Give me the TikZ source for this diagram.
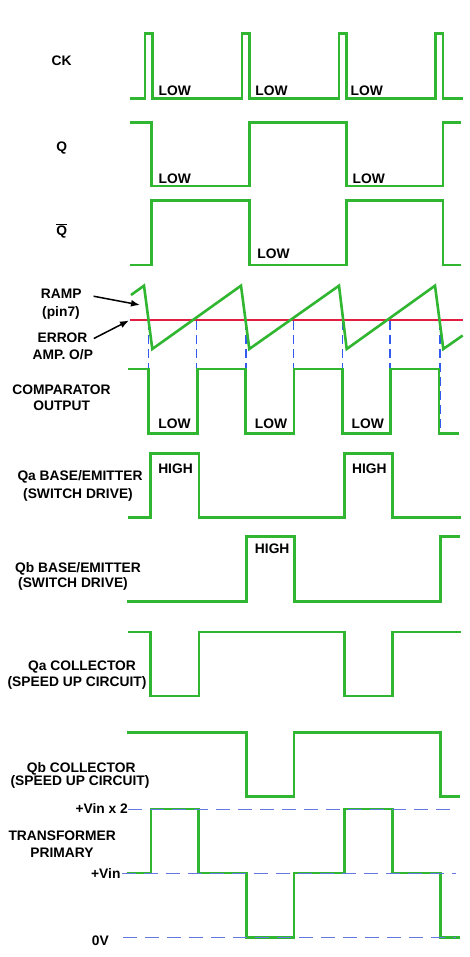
\documentclass[tikz,border=0pt]{standalone}
\usepackage{fontspec}
\setmainfont{Liberation Sans}
\usetikzlibrary{arrows.meta}
\definecolor{wg}{RGB}{48,182,48}
\definecolor{wr}{RGB}{225,30,65}
\definecolor{wb}{RGB}{50,90,240}
\definecolor{wl}{RGB}{100,120,225}
\tikzset{
  wave/.style={draw=wg, line width=2.6pt, line join=miter},
  errline/.style={draw=wr, line width=2.6pt},
  lab/.style={font=\fontsize{13.8}{15}\selectfont\bfseries, inner sep=0pt},
  lvl/.style={draw=wl, line width=1pt, dash pattern=on 14pt off 8pt},
  cmpdash/.style={draw=wb, line width=1.1pt, dash pattern=on 9pt off 5pt},
  ptr/.style={-{Latex[length=9pt,width=7pt]}, line width=1.5pt},
}
\begin{document}
\begin{tikzpicture}[x=1pt,y=-1pt]
\useasboundingbox[fill=white] (0,0) rectangle (470,957);

% ---------- CK ----------
\node[lab] (ck) at (61.7,61) {CK};
\draw[wave] (130,98.3) -- (145,98.3) -- (145,33.7) -- (152.3,33.7) -- (152.3,98.3)
  -- (242,98.3) -- (242,33.7) -- (249.7,33.7) -- (249.7,98.3)
  -- (339,98.3) -- (339,33.7) -- (346.7,33.7) -- (346.7,98.3)
  -- (435.3,98.3) -- (435.3,33.7) -- (443,33.7) -- (443,98.3) -- (462.7,98.3);
\node[lab] (cklow1) at (174.7,90.7) {LOW};
\node[lab] (cklow2) at (271.5,90.7) {LOW};
\node[lab] (cklow3) at (366.7,90.7) {LOW};

% ---------- Q ----------
\node[lab] (q) at (61.7,148.3) {Q};
\draw[wave] (130,122.7) -- (151.7,122.7) -- (151.7,186) -- (249.7,186) -- (249.7,122.7)
  -- (346.7,122.7) -- (346.7,186) -- (443,186) -- (443,122.7) -- (460.7,122.7);
\node[lab] (qlow1) at (174.7,178.3) {LOW};
\node[lab] (qlow2) at (368.8,178.3) {LOW};

% ---------- Q bar ----------
\node[lab] (qbar) at (61.7,231) {$\overline{\mbox{Q}}$};
\draw[wave] (130,265) -- (151.7,265) -- (151.7,200.3) -- (249.7,200.3) -- (249.7,265)
  -- (346.7,265) -- (346.7,200.3) -- (443,200.3) -- (443,265) -- (460.7,265);
\node[lab] (qblow) at (273.5,254) {LOW};

% ---------- Ramp / error amp ----------
\foreach \xx in {148.3,196.7,246,293.3,342.3,390,440}
  \draw[cmpdash] (\xx,321) -- (\xx,433);
\draw[errline] (130,320) -- (462.7,320);
\draw[wave] (131,295) -- (144,285.7) -- (152.3,349) -- (241,285.7) -- (249.3,349)
  -- (339,285.7) -- (346.7,349) -- (435,285.7) -- (443.3,349) -- (462.7,335.5);

\node[lab] (ramp) at (61.3,294) {RAMP};
\node[lab] (pin) at (61,312.5) {(pin7)};
\node[lab] (error) at (62.5,337.7) {ERROR};
\node[lab] (amp) at (62.8,355) {AMP. O/P};
\coordinate (rampTip) at (140,305);
\coordinate (errTip) at (129,320.5);
\draw[ptr, shorten <=12pt] (ramp.east) -- (rampTip);
\draw[ptr, shorten <=7pt] ([yshift=-4pt]error.east) -- (errTip);

% ---------- Comparator ----------
\node[lab] (comp1) at (61.5,390) {COMPARATOR};
\node[lab] (comp2) at (61.7,406) {OUTPUT};
\draw[wave] (127.7,369) -- (148.3,369) -- (148.3,433.3) -- (197.7,433.3) -- (197.7,369)
  -- (245.7,369) -- (245.7,433.3) -- (294,433.3) -- (294,369)
  -- (342.3,369) -- (342.3,433.3) -- (390.7,433.3) -- (390.7,369)
  -- (439,369) -- (439,433.3) -- (458.7,433.3);
\node[lab] (clow1) at (174.5,424) {LOW};
\node[lab] (clow2) at (271,424) {LOW};
\node[lab] (clow3) at (367.8,424) {LOW};

% ---------- Qa base/emitter ----------
\node[lab] (qabe1) at (80,477.3) {Qa BASE/EMITTER};
\node[lab] (qabe2) at (78,495) {(SWITCH DRIVE)};
\draw[wave] (128.3,517.7) -- (150.7,517.7) -- (150.7,453.3) -- (199,453.3) -- (199,517.7)
  -- (344.3,517.7) -- (344.3,453.3) -- (392.3,453.3) -- (392.3,517.7) -- (460.7,517.7);
\node[lab] (qahigh1) at (175.5,468.3) {HIGH};
\node[lab] (qahigh2) at (369.3,468.3) {HIGH};

% ---------- Qb base/emitter ----------
\node[lab] (qbbe1) at (78,569) {Qb BASE/EMITTER};
\node[lab] (qbbe2) at (73,584.3) {(SWITCH DRIVE)};
\draw[wave] (127.3,601.7) -- (246.3,601.7) -- (246.3,536.7) -- (294.3,536.7) -- (294.3,601.7)
  -- (440.7,601.7) -- (440.7,536.7) -- (460,536.7);
\node[lab] (qbhigh) at (272.2,548.3) {HIGH};

% ---------- Qa collector ----------
\node[lab] (qac1) at (82,667.3) {Qa COLLECTOR};
\node[lab] (qac2) at (77,683.3) {(SPEED UP CIRCUIT)};
\draw[wave] (128.3,632) -- (150.7,632) -- (150.7,696) -- (199,696) -- (199,632)
  -- (344.3,632) -- (344.3,696) -- (392.3,696) -- (392.3,632) -- (460.7,632);

% ---------- Qb collector ----------
\node[lab] (qbc1) at (81.2,769) {Qb COLLECTOR};
\node[lab] (qbc2) at (80,782.3) {(SPEED UP CIRCUIT)};
\draw[wave] (127.3,732.3) -- (246.7,732.3) -- (246.7,796.7) -- (294,796.7) -- (294,732.3)
  -- (440.7,732.3) -- (440.7,796.7) -- (460,796.7);

% ---------- Transformer primary ----------
\draw[wave] (127.3,873) -- (151,873) -- (151,809) -- (198.7,809) -- (198.7,873)
  -- (246.7,873) -- (246.7,937.7) -- (294,937.7) -- (294,873)
  -- (344.3,873) -- (344.3,809) -- (392.3,809) -- (392.3,873)
  -- (440.7,873) -- (440.7,937.7) -- (460,937.7);
\draw[lvl] (128,809) -- (456,809);
\draw[lvl] (121.7,873) -- (456,873);
\draw[lvl] (123.3,937.7) -- (456,937.7);
\node[lab] (v2) at (101.7,808.3) {+Vin x 2};
\node[lab] (tp1) at (62.2,835.7) {TRANSFORMER};
\node[lab] (tp2) at (62,852.3) {PRIMARY};
\node[lab] (v1) at (105.8,873) {+Vin};
\node[lab] (v0) at (100.3,940.7) {0V};
\end{tikzpicture}
\end{document}
